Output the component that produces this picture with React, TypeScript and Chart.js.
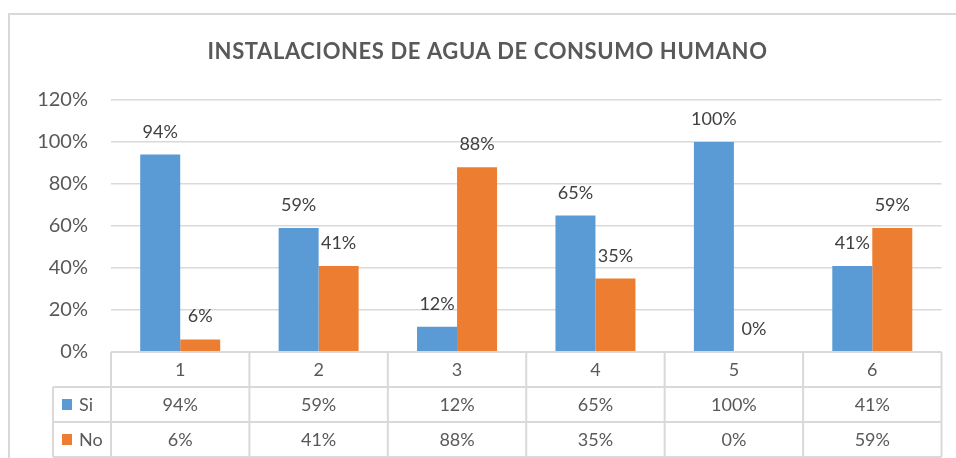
import React, { useEffect, useRef } from "react";
import { Chart, registerables } from "chart.js";

Chart.register(...registerables);

const TITLE = "INSTALACIONES DE AGUA DE CONSUMO HUMANO";
const categories = ["1", "2", "3", "4", "5", "6"];
const seriesNames = ["Si", "No"];
const siValues = [0.94, 0.59, 0.12, 0.65, 1.0, 0.41];
const noValues = [0.06, 0.41, 0.88, 0.35, 0.0, 0.59];
const yTicks = [0, 0.2, 0.4, 0.6, 0.8, 1.0, 1.2];

const BLUE = "#5B9BD5";
const ORANGE = "#ED7D31";
const GRID = "#D9D9D9";
const TEXT = "#595959";
const LABEL = "#404040";
const FONT = "Lato";

const pct = (v: number) => `${Math.round(v * 100)}%`;

const decorPlugin = {
  id: "decor",
  afterDraw(chart: any) {
    const ctx = chart.ctx as CanvasRenderingContext2D;
    const area = chart.chartArea;
    const xs = chart.scales.x;
    ctx.save();
    // outer frame
    ctx.strokeStyle = GRID;
    ctx.lineWidth = 2;
    ctx.beginPath();
    ctx.moveTo(9, 458);
    ctx.lineTo(9, 14);
    ctx.lineTo(956, 14);
    ctx.stroke();

    // title
    ctx.fillStyle = TEXT;
    ctx.font = `bold 22px ${FONT}`;
    ctx.textAlign = "center";
    ctx.textBaseline = "alphabetic";
    (ctx as any).letterSpacing = "0.6px";
    ctx.fillText(TITLE, 487.5, 59);
    (ctx as any).letterSpacing = "0px";

    // data labels
    ctx.font = `18px ${FONT}`;
    ctx.fillStyle = LABEL;
    chart.data.datasets.forEach((ds: any, di: number) => {
      const meta = chart.getDatasetMeta(di);
      meta.data.forEach((bar: any, i: number) => {
        ctx.fillText(pct(ds.data[i]), bar.x, bar.y - 17);
      });
    });

    // data table
    const n = categories.length;
    const half = (xs.getPixelForValue(1) - xs.getPixelForValue(0)) / 2;
    const left = area.left;
    const right = area.right;
    const top = area.bottom;
    const rowH = 35;
    const legendLeft = 53;
    ctx.strokeStyle = GRID;
    ctx.lineWidth = 2;
    ctx.beginPath();
    ctx.moveTo(left, top);
    ctx.lineTo(right, top);
    for (let r = 1; r <= 3; r++) {
      ctx.moveTo(legendLeft, top + rowH * r);
      ctx.lineTo(right, top + rowH * r);
    }
    ctx.moveTo(legendLeft, top + rowH);
    ctx.lineTo(legendLeft, top + rowH * 3);
    for (let i = 0; i < n; i++) {
      const bx = xs.getPixelForValue(i) - half;
      ctx.moveTo(bx, top);
      ctx.lineTo(bx, top + rowH * 3);
    }
    ctx.moveTo(right, top);
    ctx.lineTo(right, top + rowH * 3);
    ctx.stroke();

    ctx.fillStyle = TEXT;
    ctx.font = `18px ${FONT}`;
    ctx.textAlign = "center";
    const capOff = 6.5;
    categories.forEach((c, i) => {
      ctx.fillText(c, xs.getPixelForValue(i), top + rowH / 2 + capOff);
    });
    chart.data.datasets.forEach((ds: any, di: number) => {
      const cy = top + rowH * (di + 1) + rowH / 2;
      ds.data.forEach((v: number, i: number) => {
        ctx.fillStyle = TEXT;
        ctx.textAlign = "center";
        ctx.fillText(pct(v), xs.getPixelForValue(i), cy + capOff);
      });
      ctx.fillStyle = ds.backgroundColor;
      ctx.fillRect(62, cy - 5.5, 10, 11);
      ctx.fillStyle = TEXT;
      ctx.textAlign = "left";
      ctx.fillText(ds.label, 79, cy + capOff);
    });
    ctx.restore();
  },
};

export default function App() {
  const ref = useRef<HTMLCanvasElement | null>(null);
  useEffect(() => {
    document.body.style.margin = "0";
    const canvas = ref.current;
    if (!canvas) return;
    const chart = new Chart(canvas, {
      type: "bar",
      data: {
        labels: categories,
        datasets: [
          { label: seriesNames[0], data: siValues, backgroundColor: BLUE },
          { label: seriesNames[1], data: noValues, backgroundColor: ORANGE },
        ],
      },
      options: {
        responsive: false,
        animation: false,
        layout: { padding: { top: 100, bottom: 106, left: 0, right: 14.5 } },
        datasets: {
          bar: { barPercentage: 1, categoryPercentage: 0.578 },
        },
        plugins: {
          legend: { display: false },
          title: { display: false },
          tooltip: { enabled: false },
        },
        scales: {
          x: { display: false },
          y: {
            min: 0,
            max: 1.2,
            afterFit: (s: any) => {
              s.width = 111;
            },
            afterBuildTicks: (s: any) => {
              s.ticks = yTicks.map((v) => ({ value: v }));
            },
            border: { display: false },
            grid: { color: GRID, lineWidth: 1.5, drawTicks: false },
            ticks: {
              padding: 23,
              color: TEXT,
              font: { family: FONT, size: 20 },
              callback: (v: any) => pct(Number(v)),
            },
          },
        },
      },
      plugins: [decorPlugin],
    });
    return () => chart.destroy();
  }, []);
  return (
    <canvas
      ref={ref}
      width={956}
      height={458}
      style={{ display: "block", width: 956, height: 458 }}
    />
  );
}
